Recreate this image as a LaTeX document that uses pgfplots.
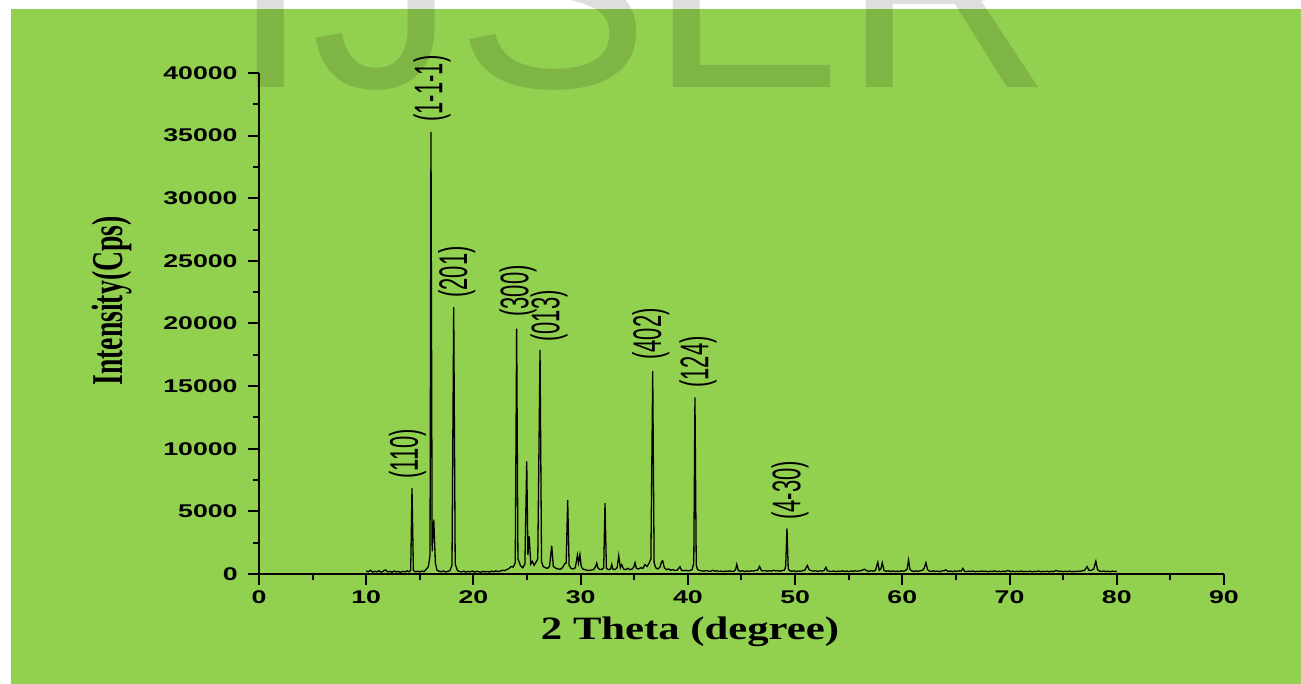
\documentclass[border=0pt]{standalone}
\usepackage{fontspec}
\usepackage{pgfplots}
\pgfplotsset{compat=1.18}
\setmainfont{Liberation Sans}
\newfontfamily\tickfont{Liberation Sans}[FakeStretch=1.45]
\newfontfamily\labelfont{Liberation Sans}[FakeStretch=0.55]
\newfontfamily\ytitlefont{Liberation Serif}[FakeStretch=0.63]
\newfontfamily\xtitlefont{Liberation Serif}[FakeStretch=1.31]
\definecolor{bggreen}{HTML}{92D050}
\begin{document}
\begin{tikzpicture}
\path[use as bounding box] (0,0) rectangle (650.5pt,342pt);
\fill[white] (0,0) rectangle (650.5pt,342pt);
\fill[bggreen] (5.5pt,0) rectangle (650.5pt,337.5pt);
\begin{scope}
\clip (0,0) rectangle (650.5pt,342pt);
\node[anchor=base west, inner sep=0pt, text=black, text opacity=0.13, font=\fontsize{145pt}{145pt}\selectfont] at (115pt,298pt) {IJSER};
\end{scope}
\begin{axis}[
  at={(129.5pt,55pt)}, anchor=south west,
  scale only axis, width=482.5pt, height=250.5pt,
  xmin=0, xmax=90, ymin=0, ymax=40000,
  axis lines=left,
  axis line style={-, line width=1.2pt, black},
  tick align=outside,
  major tick length=5.5pt, minor tick length=3pt,
  every tick/.style={black, line width=1pt},
  xtick={0,10,...,90},
  xticklabels={0,10,20,30,40,50,60,70,80,90},
  ytick={0,5000,...,40000},
  yticklabels={0,5000,10000,15000,20000,25000,30000,35000,40000},
  minor x tick num=1, minor y tick num=1,
  scaled y ticks=false,
  tick label style={font=\tickfont\bfseries\fontsize{9.2pt}{10pt}\selectfont},
  yticklabel style={inner sep=0pt, xshift=-5pt},
  xticklabel style={inner sep=0pt, yshift=-2.5pt},
  clip=false,
]
\addplot[black, line width=0.65pt] coordinates {
(10.0,250) (10.2,180) (10.4,300) (10.6,150) (10.8,220) (11.0,170) (11.2,260) (11.4,140) (11.6,230) (11.8,330)
(12.0,160) (12.2,210) (12.4,140) (12.6,240) (12.8,170) (13.0,200) (13.2,130) (13.4,220) (13.6,160) (13.8,250)
(14.0,180) (14.15,300) (14.27,6850) (14.4,280) (14.6,170) (14.8,220) (15.0,160) (15.2,240) (15.4,190) (15.6,380)
(15.8,600) (15.95,1500) (16.04,35300) (16.15,1800) (16.3,4340) (16.45,900) (16.6,300) (16.8,220) (17.0,180) (17.2,240)
(17.4,160) (17.6,210) (17.8,260) (18.0,700) (18.16,21300) (18.3,800) (18.5,280) (18.7,200) (18.9,170) (19.1,230)
(19.3,150) (19.5,200) (19.7,170) (19.9,240) (20.1,150) (20.3,210) (20.5,180) (20.7,140) (20.9,220) (21.1,170)
(21.3,200) (21.5,150) (21.7,230) (21.9,180) (22.1,250) (22.3,190) (22.5,230) (22.7,300) (22.9,260) (23.1,350)
(23.3,420) (23.5,600) (23.7,550) (23.9,900) (24.03,19600) (24.15,1200) (24.4,650) (24.6,500) (24.8,800) (24.97,9000)
(25.08,1500) (25.2,3000) (25.35,800) (25.5,1000) (25.65,700) (25.8,900) (26.0,1200) (26.21,17900) (26.35,1000) (26.5,600)
(26.7,500) (26.9,450) (27.1,600) (27.3,2250) (27.45,600) (27.7,450) (27.9,400) (28.1,380) (28.3,500) (28.5,800)
(28.65,900) (28.79,5900) (28.92,700) (29.1,450) (29.3,400) (29.5,500) (29.7,1500) (29.8,900) (29.93,1550) (30.05,600)
(30.2,400) (30.4,350) (30.6,300) (30.8,280) (31.0,320) (31.2,350) (31.4,600) (31.5,870) (31.6,500) (31.8,350)
(32.0,380) (32.15,500) (32.27,5650) (32.4,450) (32.6,350) (32.8,400) (32.9,750) (33.0,400) (33.2,350) (33.4,500)
(33.55,1450) (33.7,500) (33.83,750) (34.0,400) (34.2,350) (34.4,450) (34.6,350) (34.8,400) (34.95,550) (35.07,900)
(35.2,450) (35.4,400) (35.6,500) (35.8,450) (36.0,750) (36.2,600) (36.4,900) (36.55,1200) (36.72,16200) (36.85,900)
(37.0,500) (37.2,400) (37.4,550) (37.55,1000) (37.65,1050) (37.8,500) (38.0,350) (38.2,400) (38.4,300) (38.6,350)
(38.8,280) (39.0,300) (39.26,580) (39.4,300) (39.6,260) (39.8,300) (40.0,250) (40.2,280) (40.4,350) (40.55,900)
(40.66,14100) (40.78,700) (40.9,350) (41.1,280) (41.3,250) (41.5,220) (41.7,280) (41.9,230) (42.1,200) (42.3,300)
(42.5,220) (42.7,260) (42.9,200) (43.1,240) (43.3,190) (43.5,230) (43.7,210) (43.9,250) (44.1,200) (44.3,230)
(44.45,350) (44.56,770) (44.7,280) (44.9,220) (45.1,260) (45.3,200) (45.5,240) (45.7,210) (45.9,250) (46.1,230)
(46.3,280) (46.5,300) (46.69,600) (46.85,280) (47.0,240) (47.2,280) (47.4,220) (47.6,260) (47.8,230) (48.0,300)
(48.2,240) (48.4,270) (48.6,220) (48.8,280) (49.0,300) (49.12,600) (49.24,3650) (49.36,400) (49.5,260) (49.7,220)
(49.9,250) (50.1,200) (50.3,240) (50.5,220) (50.7,260) (50.9,300) (51.14,680) (51.3,350) (51.5,260) (51.7,230)
(51.9,260) (52.1,210) (52.3,250) (52.5,230) (52.7,280) (52.88,530) (53.0,260) (53.2,220) (53.4,200) (53.6,240)
(53.8,190) (54.0,230) (54.2,200) (54.4,250) (54.6,210) (54.8,230) (55.0,190) (55.2,240) (55.4,210) (55.6,260)
(55.8,220) (56.0,250) (56.2,280) (56.47,380) (56.7,250) (56.9,220) (57.1,260) (57.3,230) (57.5,300) (57.71,930)
(57.85,300) (58.0,400) (58.13,900) (58.3,280) (58.5,220) (58.7,250) (58.9,200) (59.1,240) (59.3,210) (59.5,230)
(59.7,200) (59.9,250) (60.1,220) (60.3,280) (60.45,400) (60.58,1120) (60.72,350) (60.9,240) (61.1,210) (61.3,250)
(61.5,220) (61.7,260) (61.9,300) (62.05,500) (62.2,900) (62.35,350) (62.5,240) (62.7,210) (62.9,250) (63.1,200)
(63.3,230) (63.5,190) (63.7,240) (63.9,260) (64.07,330) (64.25,210) (64.5,230) (64.7,190) (64.9,240) (65.1,210)
(65.3,250) (65.5,230) (65.64,450) (65.8,220) (66.0,190) (66.2,230) (66.4,200) (66.6,240) (66.8,180) (67.0,220)
(67.2,190) (67.4,240) (67.6,200) (67.8,230) (68.0,180) (68.2,220) (68.4,200) (68.6,250) (68.8,190) (69.0,220)
(69.2,180) (69.4,230) (69.6,200) (69.86,280) (70.1,190) (70.3,230) (70.5,180) (70.7,220) (70.9,190) (71.1,240)
(71.3,180) (71.5,210) (71.7,190) (71.9,230) (72.1,170) (72.3,220) (72.5,190) (72.7,240) (72.9,180) (73.1,210)
(73.3,190) (73.5,230) (73.7,170) (73.9,220) (74.1,190) (74.34,280) (74.6,200) (74.8,230) (75.0,180) (75.2,220)
(75.4,190) (75.6,240) (75.8,180) (76.0,210) (76.2,190) (76.4,230) (76.6,210) (76.8,260) (77.0,300) (77.23,590)
(77.4,300) (77.6,280) (77.85,400) (78.05,1010) (78.2,350) (78.4,230) (78.6,200) (78.8,240) (79.0,190) (79.2,220)
(79.4,180) (79.6,230) (79.8,200) (80.0,220)
};
\tikzset{pk/.style={rotate=90, anchor=west, inner sep=0pt, font=\labelfont\fontsize{20pt}{20pt}\selectfont}}
\node[pk] at (axis cs:13.85,7585) {(110)};
\node[pk] at (axis cs:16.13,36090) {(1-1-1)};
\node[pk] at (axis cs:18.44,22036) {(201)};
\node[pk] at (axis cs:24.16,20520) {(300)};
\node[pk] at (axis cs:27.05,18523) {(013)};
\node[pk] at (axis cs:36.54,17086) {(402)};
\node[pk] at (axis cs:40.94,14850) {(124)};
\node[pk] at (axis cs:49.52,4311) {(4-30)};
\end{axis}
\node[rotate=90, inner sep=0pt, font=\ytitlefont\bfseries\fontsize{22pt}{22pt}\selectfont] at (56pt,191.5pt) {Intensity(Cps)};
\node[inner sep=0pt, font=\xtitlefont\bfseries\fontsize{16.3pt}{16.3pt}\selectfont] at (345pt,26pt) {2 Theta (degree)};
\end{tikzpicture}
\end{document}
